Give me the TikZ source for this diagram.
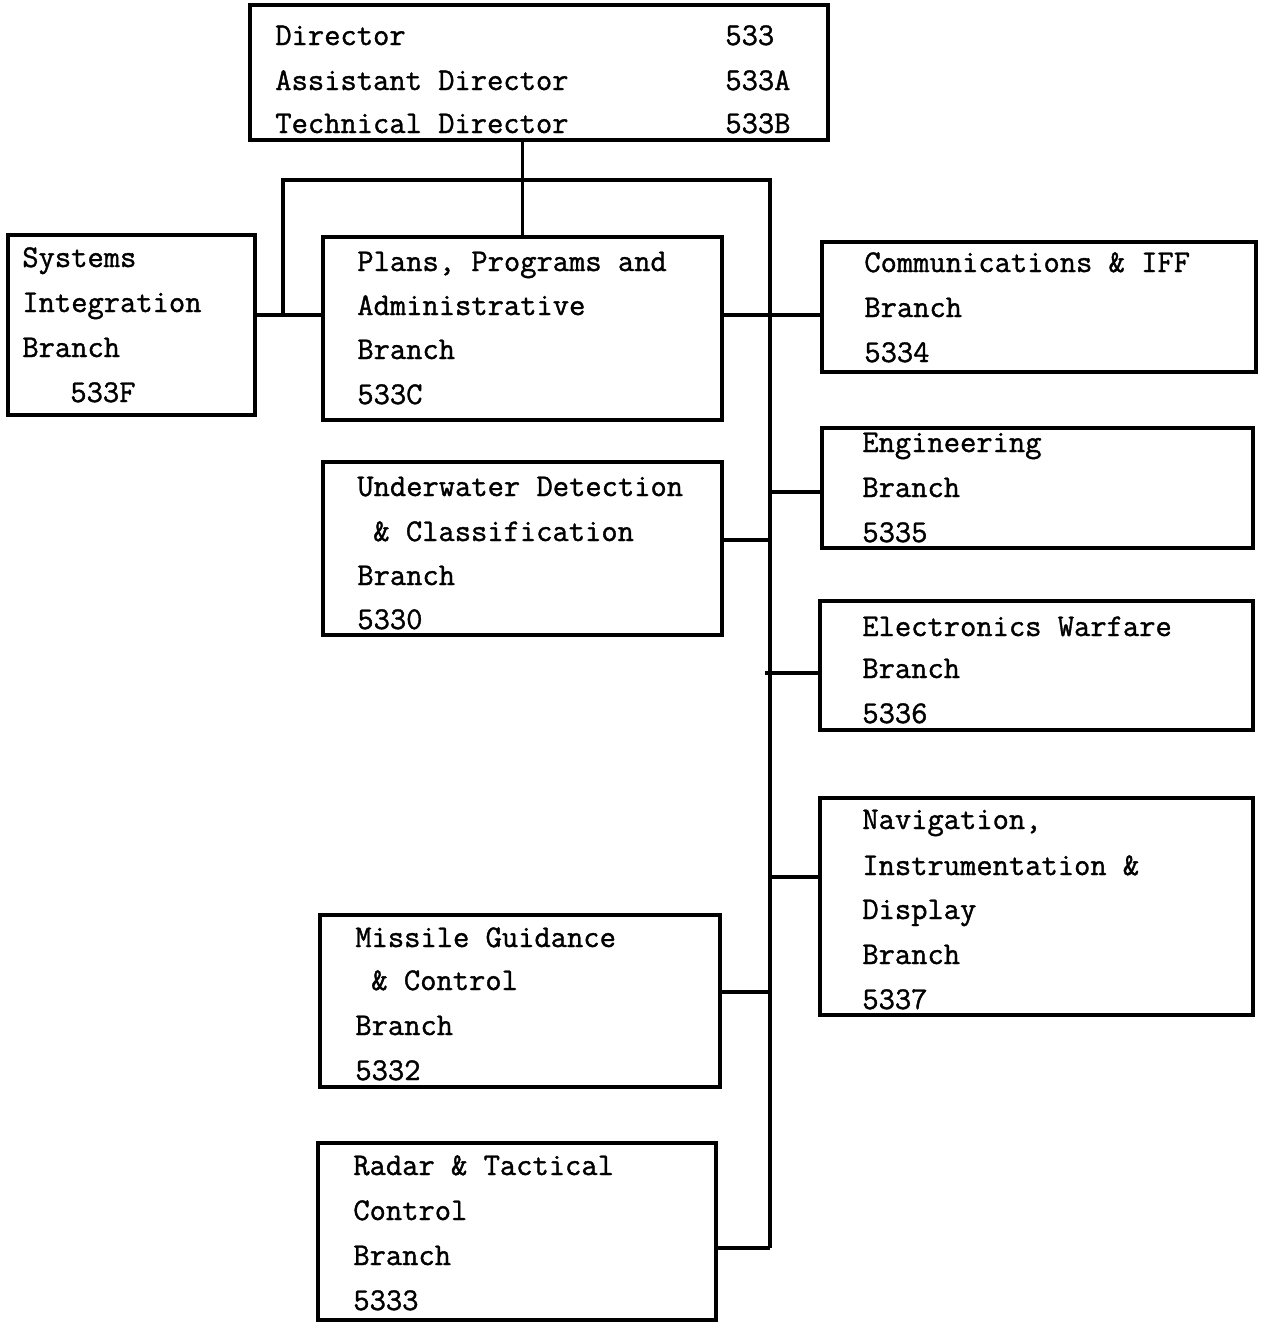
\documentclass[tikz,border=0pt]{standalone}
\usepackage{fontspec}
\newfontfamily\typer{Latin Modern Mono}[FakeBold=1.2]
\usetikzlibrary{fit}
\begin{document}
\begin{tikzpicture}[x=0.02cm,y=-0.02cm,
  unit/.style={draw=black, line width=2.2pt, inner sep=0pt, rectangle},
  txt/.style={anchor=base west, inner sep=0pt, font=\typer\fontsize{18}{20}\selectfont},
  link/.style={draw=black, line width=2.2pt}]
\useasboundingbox[fill=white] (0,0) rectangle (1268,1323);

% boxes
\node[unit, fit={(250,5) (828,140)}] (dir) {};
\node[unit, fit={(8,235) (255,415)}] (sysint) {};
\node[unit, fit={(323,237) (722,420)}] (plans) {};
\node[unit, fit={(323,462) (722,635)}] (udc) {};
\node[unit, fit={(320,915) (720,1087)}] (mgc) {};
\node[unit, fit={(318,1143) (716,1320)}] (rtc) {};
\node[unit, fit={(822,242) (1256,372)}] (comm) {};
\node[unit, fit={(822,428) (1253,548)}] (eng) {};
\node[unit, fit={(820,601) (1253,730)}] (ew) {};
\node[unit, fit={(820,798) (1253,1015)}] (nav) {};

% directorate
\node[txt] (d1) at (275,45) {Director};
\node[txt] (d1n) at (725,45) {533};
\node[txt] (d2) at (275,90) {Assistant Director};
\node[txt] (d2n) at (725,90) {533A};
\node[txt] (d3) at (275,133) {Technical Director};
\node[txt] (d3n) at (725,133) {533B};

% systems integration
\node[txt] (s1) at (22,267) {Systems};
\node[txt] (s2) at (22,312) {Integration};
\node[txt] (s3) at (22,357) {Branch};
\node[txt] (s4) at (70,402) {533F};

% plans
\node[txt] (p1) at (357,271) {Plans, Programs and};
\node[txt] (p2) at (357,315) {Administrative};
\node[txt] (p3) at (357,359) {Branch};
\node[txt] (p4) at (357,404) {533C};

% underwater
\node[txt] (u1) at (357,496) {Underwater Detection};
\node[txt] (u2) at (373,541) {\& Classification};
\node[txt] (u3) at (357,585) {Branch};
\node[txt] (u4) at (357,629) {5330};

% missile
\node[txt] (m1) at (355,947) {Missile Guidance};
\node[txt] (m2) at (371,990) {\& Control};
\node[txt] (m3) at (355,1035) {Branch};
\node[txt] (m4) at (355,1080) {5332};

% radar
\node[txt] (r1) at (353,1175) {Radar \& Tactical};
\node[txt] (r2) at (353,1220) {Control};
\node[txt] (r3) at (353,1265) {Branch};
\node[txt] (r4) at (353,1310) {5333};

% communications
\node[txt] (c1) at (864,272) {Communications \& IFF};
\node[txt] (c2) at (864,317) {Branch};
\node[txt] (c3) at (864,362) {5334};

% engineering
\node[txt] (e1) at (862,452) {Engineering};
\node[txt] (e2) at (862,497) {Branch};
\node[txt] (e3) at (862,542) {5335};

% electronics warfare
\node[txt] (w1) at (862,636) {Electronics Warfare};
\node[txt] (w2) at (862,678) {Branch};
\node[txt] (w3) at (862,723) {5336};

% navigation
\node[txt] (n1) at (862,829) {Navigation,};
\node[txt] (n2) at (862,875) {Instrumentation \&};
\node[txt] (n3) at (862,919) {Display};
\node[txt] (n4) at (862,964) {Branch};
\node[txt] (n5) at (862,1009) {5337};

% bus points
\coordinate (busL) at (283,180);
\coordinate (busR) at (770,180);
\coordinate (busB) at (770,1248);
\coordinate (sysJ) at (283,315);

% connectors
\draw[link] (plans.north) -- (plans.north |- dir.south);
\draw[link] (sysJ) -- (busL) -- (busR) -- (busB);
\draw[link] (sysint.east |- sysJ) -- (plans.west |- sysJ);
\draw[link] (plans.east |- sysJ) -- (comm.west |- sysJ);
\draw[link] (udc.east |- 0,540) -- (770,540);
\draw[link] (770,492) -- (eng.west |- 0,492);
\draw[link] (765,673) -- (ew.west |- 0,673);
\draw[link] (770,877) -- (nav.west |- 0,877);
\draw[link] (mgc.east |- 0,992) -- (770,992);
\draw[link] (rtc.east |- busB) -- (busB);
\end{tikzpicture}
\end{document}
